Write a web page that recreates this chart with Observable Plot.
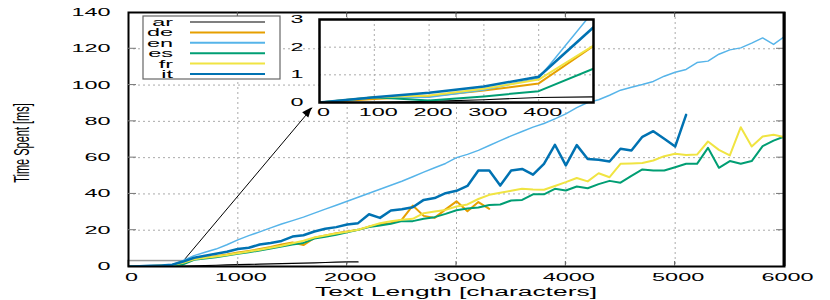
<!DOCTYPE html>
<html><head><meta charset="utf-8">
<script src="https://cdn.jsdelivr.net/npm/d3@7"></script>
<script src="https://cdn.jsdelivr.net/npm/@observablehq/plot@0.6"></script>
<style>
body{margin:0;background:#fff;}
#wrap{position:relative;width:830px;height:300px;background:#fff;}
#wrap svg{position:absolute;left:0;top:0;}
</style></head><body><div id="wrap"></div>
<script>
// ---------- data ----------
const lengths = [0,100,200,300,400,500,600,700,800,900,1000,1100,1200,1300,1400,1500,1600,1700,1800,1900,2000,2100,2200,2300,2400,2500,2600,2700,2800,2900,3000,3100,3200,3300,3400,3500,3600,3700,3800,3900,4000,4100,4200,4300,4400,4500,4600,4700,4800,4900,5000,5100,5200,5300,5400,5500,5600,5700,5800,5900,6000];
const langs = ["ar","de","en","es","fr","it"];
const colors = ["#000000","#E69F00","#56B4E9","#009E73","#F0E442","#0072B2"];
const widths = [1.2,2,1.5,2,2,2.5];
const ar = [0,0,0.04,0.1,0.18,0.2,0.4,0.55,0.7,0.85,1.0,1.15,1.3,1.45,1.6,1.75,1.9,2.05,2.2,2.4,2.6,2.5];
const de = [0,0.13,0.23,0.43,0.69,2.04,4.0,4.8,5.7,6.6,7.7,8.6,9.6,10.7,12.2,13.2,11.8,15.8,17.1,18.4,19.3,20.2,22.0,23.1,23.9,25.8,33.6,27.9,26.8,31.5,35.9,30.5,35.5,31.8];
const en = [0,0.17,0.19,0.45,0.88,3.3,6.0,7.9,9.6,12.0,14.7,17.0,19.1,21.3,23.4,25.3,27.2,29.4,31.6,33.8,36.0,38.2,40.4,42.6,44.8,47.0,49.5,52.0,54.4,56.8,60.0,61.8,64.0,66.7,69.4,72.0,74.4,76.8,78.8,81.4,84.1,87.6,90.4,91.9,94.4,97.2,98.8,100.3,102.0,104.9,107.1,108.6,112.4,113.2,117.0,119.4,120.5,123.1,126.0,122.4,126.8];
const es = [0,0.19,0.07,0.22,0.41,1.22,3.7,4.4,5.1,6.1,7.0,7.9,8.8,9.9,11.0,12.1,13.0,15.4,16.4,17.5,18.9,20.2,21.7,22.6,23.5,25.0,25.0,26.3,27.2,29.0,31.0,32.0,32.5,33.9,34.2,36.4,36.7,39.8,39.8,42.8,41.9,44.1,43.1,45.4,47.2,46.2,50.0,53.5,52.9,52.9,54.7,56.6,56.6,65.4,54.4,58.1,56.6,58.1,66.3,69.4,71.7];
const fr = [0,0.19,0.25,0.5,0.83,2.06,4.0,4.8,5.5,6.4,7.3,8.3,9.2,10.3,11.4,12.8,14.2,16.0,17.1,18.2,19.1,20.3,22.0,23.8,25.0,25.8,26.3,29.4,30.3,31.2,33.1,34.2,37.2,39.5,40.6,41.7,42.8,42.4,42.3,44.4,46.5,48.8,46.9,51.4,49.2,56.6,56.8,57.0,58.4,60.8,62.1,61.4,61.7,68.9,64.3,61.2,76.8,66.1,71.7,72.6,71.3];
const it = [0,0.19,0.35,0.58,0.93,2.72,4.8,5.9,7.0,8.1,9.6,10.3,12.1,13.0,14.1,16.5,17.2,19.3,20.8,21.7,23.1,23.9,28.8,26.8,30.9,31.6,32.7,36.7,37.7,40.4,41.7,44.4,52.9,52.9,44.6,52.9,53.8,50.6,56.6,67.1,55.7,66.9,59.3,58.8,57.9,64.9,63.9,71.5,74.6,70.4,66.1,83.6];
const xTicks = [0,1000,2000,3000,4000,5000,6000];
const yTicks = [0,20,40,60,80,100,120,140];
const insetXTicks = [0,100,200,300,400];
const insetYTicks = [0,1,2,3];
const zoomBox = [{x1:0, x2:500, y1:0, y2:3}];
const arrowLink = [{x1:500, y1:3, x2:1680, y2:87.5}];
const xLabel = "Text Length [characters]";
const yLabel = "Time Spent [ms]";

// ---------- build ----------
const seriesVals = {ar, de, en, es, fr, it};
const rows = langs.flatMap(l => seriesVals[l].map((v,i) => ({lang:l, x:lengths[i], y:v})));
const FONT = "'Liberation Sans', Arial, sans-serif";
const GRID = {stroke:"#aaa", strokeOpacity:1, strokeWidth:1, strokeDasharray:"2,3"};

function lineMarks(data) {
  return langs.map((l,k) => Plot.line(data.filter(d => d.lang === l), {x:"x", y:"y", stroke:colors[k], strokeWidth:widths[k], clip:true}));
}

const main = Plot.plot({
  width:830, height:300,
  marginLeft:128, marginRight:46, marginTop:12, marginBottom:34,
  style:{fontFamily:FONT, fontSize:"11px", background:"transparent", color:"#000"},
  x:{domain:[0,6000], ticks:xTicks, tickSize:0, tickPadding:7, label:null, tickFormat:d => String(d)},
  y:{domain:[0,140], ticks:yTicks, tickSize:0, tickPadding:18, label:null, tickFormat:d => String(d)},
  marks:[
    Plot.ruleX(xTicks.slice(1,-1), GRID),
    Plot.ruleY(yTicks.slice(1,-1), GRID),
    Plot.rect(zoomBox, {x1:"x1", x2:"x2", y1:"y1", y2:"y2", stroke:"#999", fill:"none", strokeWidth:1.5}),
    Plot.link(arrowLink, {x1:"x1", y1:"y1", x2:"x2", y2:"y2", stroke:"black", strokeWidth:1}),
    ...lineMarks(rows),
    Plot.frame({stroke:"black", strokeWidth:2})
  ]
});

const insetRows = rows.filter(d => d.x <= 500);
const inset = Plot.plot({
  width:830, height:300,
  marginLeft:319, marginRight:237, marginTop:19, marginBottom:198,
  style:{fontFamily:FONT, fontSize:"11px", background:"transparent", color:"#000", overflow:"visible"},
  x:{domain:[0,500], ticks:insetXTicks, tickSize:0, tickPadding:6, label:null, tickFormat:d => String(d)},
  y:{domain:[0,3], ticks:insetYTicks, tickSize:0, tickPadding:16, label:null, tickFormat:d => String(d)},
  marks:[
    Plot.frame({fill:"white", stroke:null}),
    Plot.ruleX(insetXTicks.slice(1), GRID),
    Plot.ruleY(insetYTicks.slice(1,-1), GRID),
    ...lineMarks(insetRows),
    Plot.frame({stroke:"black", strokeWidth:2.5})
  ]
});

const wrap = document.getElementById("wrap");
wrap.appendChild(main);
wrap.appendChild(inset);

const STRETCH = 2.13;
function stretchAll(svg, xShift) {
  svg.querySelectorAll("g[aria-label$='axis'] text, g[aria-label*='tick label'] text").forEach(t => {
    const L = t.getComputedTextLength();
    t.setAttribute("textLength", (L*STRETCH).toFixed(1));
    t.setAttribute("lengthAdjust", "spacingAndGlyphs");
  });
  svg.querySelectorAll("g[aria-label^='x-axis'] text").forEach(t => {
    const dx = +(t.getAttribute("dx") || 0);
    t.setAttribute("dx", dx + xShift);
  });
}
stretchAll(main, 3);
stretchAll(inset, 4);

// extra decorations in main svg (ticks, arrow head, labels, legend)
const sx = main.scale("x"), sy = main.scale("y");
const g = d3.select(main).append("g");
const X0 = sx.apply(0), X1 = sx.apply(6000), Y0 = sy.apply(0), Y1 = sy.apply(140);
yTicks.slice(1,-1).forEach(v => {
  g.append("line").attr("x1",X0).attr("x2",X0+8).attr("y1",sy.apply(v)).attr("y2",sy.apply(v)).attr("stroke","#777");
  g.append("line").attr("x1",X1-8).attr("x2",X1).attr("y1",sy.apply(v)).attr("y2",sy.apply(v)).attr("stroke","#777");
});
xTicks.slice(1,-1).forEach(v => {
  g.append("line").attr("x1",sx.apply(v)).attr("x2",sx.apply(v)).attr("y1",Y1).attr("y2",Y1+5).attr("stroke","#555");
  g.append("line").attr("x1",sx.apply(v)).attr("x2",sx.apply(v)).attr("y1",Y0).attr("y2",Y0-5).attr("stroke","#555");
});
// thicker right border as in the reference
g.append("line").attr("x1",X1).attr("x2",X1).attr("y1",Y1).attr("y2",Y0).attr("stroke","black").attr("stroke-width",3);
// arrow head
{
  const a = arrowLink[0];
  const ax = sx.apply(a.x2), ay = sy.apply(a.y2), bx = sx.apply(a.x1), by = sy.apply(a.y1);
  const ang = Math.atan2(ay-by, ax-bx), L = 10, W = 4;
  const p = (dx,dy) => [ax + dx*Math.cos(ang) - dy*Math.sin(ang), ay + dx*Math.sin(ang) + dy*Math.cos(ang)];
  g.append("polygon").attr("points", [p(0,0), p(-L,-W), p(-L,W)].map(q => q.join(",")).join(" ")).attr("fill","black");
}
// axis labels
const xl = g.append("text").attr("x",(X0+X1)/2).attr("y",296).attr("text-anchor","middle")
  .attr("font-family",FONT).attr("font-size",12).text(xLabel);
xl.attr("textLength", 282).attr("lengthAdjust","spacingAndGlyphs");
g.append("text").attr("transform","translate(29,143) scale(2.05,1) rotate(-90)").attr("text-anchor","middle")
  .attr("font-family",FONT).attr("font-size",11).text(yLabel);
// legend
const lg = g.append("g");
lg.append("rect").attr("x",143).attr("y",16).attr("width",137).attr("height",63).attr("fill","white").attr("stroke","#666").attr("stroke-width",1.2);
langs.forEach((l,k) => {
  const yy = 22 + k*10.4;
  const t = lg.append("text").attr("x",173).attr("y",yy+4).attr("text-anchor","end").attr("font-family",FONT).attr("font-size",11).text(l);
  t.attr("textLength",(t.node().getComputedTextLength()*STRETCH).toFixed(1)).attr("lengthAdjust","spacingAndGlyphs");
  lg.append("line").attr("x1",190).attr("x2",265).attr("y1",yy).attr("y2",yy).attr("stroke",colors[k]).attr("stroke-width",k===0?1.2:2);
});
</script></body></html>
